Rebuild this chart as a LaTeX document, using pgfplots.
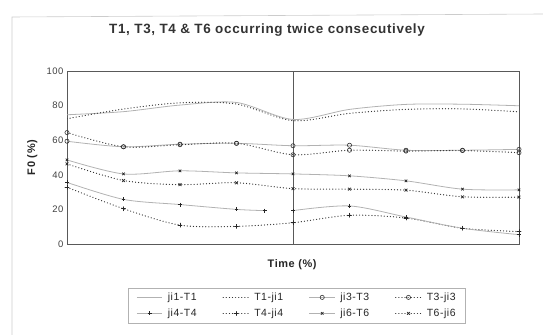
\documentclass[border=0pt]{standalone}
\usepackage{fontspec}
\setmainfont{Liberation Sans}[LetterSpace=5]
\usepackage{pgfplots}
\pgfplotsset{compat=1.18}

\pgfplotsset{
  solidline/.style={gray!60, line width=0.8pt, smooth},
  dotline/.style={black!80, line width=1.2pt, dash pattern=on 0.1pt off 3pt, line cap=round, smooth},
  circ/.style={mark=o, mark size=2.1pt, mark options={solid, fill=white, draw=black!80, line width=0.6pt}},
  plusm/.style={mark=+, mark size=2pt, mark options={solid, black!85, line width=0.7pt}},
  crossm/.style={mark=x, mark size=1.8pt, mark options={solid, black!85, line width=0.7pt}},
}

\begin{document}
\begin{tikzpicture}
\path[use as bounding box] (0,0) rectangle (543bp,335bp);
% chart area border (left and top edges)
\draw[gray!40, line width=0.6pt] (12bp,0) -- (12bp,318bp) -- (543bp,321bp);
\node[font=\bfseries\fontsize{13.5}{16}\selectfont, text=black!80] at (267bp,305bp)
  {T1, T3, T4 \& T6 occurring twice consecutively};
\begin{axis}[
  at={(67bp,91bp)}, anchor=south west,
  scale only axis, width=452bp, height=173bp,
  xmin=0, xmax=8, ymin=0, ymax=100,
  xtick=\empty, ytick={0,20,...,100},
  major tick length=0pt,
  axis line style={gray!70!black, line width=0.7pt},
  tick label style={font=\fontsize{9.5}{10}\selectfont, text=black!75},
  /pgf/number format/assume math mode=true,
  xlabel={Time (\%)}, ylabel={F0 (\%)},
  label style={font=\bfseries\fontsize{11}{13}\selectfont, text=black!85},
  xlabel style={at={(axis description cs:0.498,-0.121)}, anchor=center},
  ylabel style={at={(axis description cs:-0.077,0.5)}, anchor=center},
  legend columns=4,
  legend cell align=left,
  legend style={at={(0.509,-0.355)}, anchor=center, draw=gray!60, line width=0.5pt,
    font=\fontsize{10.5}{12}\selectfont, text=black!85,
    column sep=3bp, inner xsep=8bp, inner ysep=3bp, row sep=3bp,
    /tikz/every even column/.append style={column sep=24bp}},
  legend image code/.code={\draw[mark repeat=2, mark phase=2]
    plot coordinates {(0cm,0cm) (0.45cm,0cm) (0.9cm,0cm)};},
]
% boundary between the two syllables
\addplot[gray!70!black, line width=0.7pt, forget plot] coordinates {(4,0) (4,100)};

\addplot[solidline] coordinates {
  (0,74.7) (1,76.5) (2,80.3) (3,81.8) (4,72) (5,77.8) (6,80.7) (7,80.8) (8,79.9)};
\addlegendentry{ji1-T1}
\addplot[dotline] coordinates {
  (0,72.4) (1,78) (2,81.6) (3,80.9) (4,71.3) (5,75.5) (6,77.8) (7,78.1) (8,76.4)};
\addlegendentry{T1-ji1}

\addplot[solidline, circ] coordinates {
  (0,59.4) (1,56.2) (2,57.7) (3,58.2) (4,56.8) (5,57.1) (6,54.2) (7,54.2) (8,54.7)};
\addlegendentry{ji3-T3}
\addplot[dotline, circ] coordinates {
  (0,64.4) (1,56.2) (2,57.4) (3,58.2) (4,51.6) (5,54.2) (6,53.7) (7,54) (8,52.8)};
\addlegendentry{T3-ji3}

\addplot[solidline, plusm] coordinates {
  (0,35.6) (1,25.8) (2,22.8) (3,20) (3.5,19.3)};
\addlegendentry{ji4-T4}
\addplot[dotline, plusm] coordinates {
  (0,32.8) (1,20.4) (2,10.9) (3,10.2) (4,12.3) (5,16.6) (6,15) (7,9.1) (8,7.2)};
\addlegendentry{T4-ji4}

\addplot[solidline, crossm] coordinates {
  (0,48.6) (1,40.5) (2,42.3) (3,41.1) (4,40.5) (5,39.4) (6,36.5) (7,31.7) (8,31.3)};
\addlegendentry{ji6-T6}
\addplot[dotline, crossm] coordinates {
  (0,46.3) (1,36.7) (2,34.3) (3,35.4) (4,32) (5,31.7) (6,31.1) (7,27.3) (8,27.1)};
\addlegendentry{T6-ji6}

% second part of ji4-T4, after the break
\addplot[solidline, plusm, forget plot] coordinates {
  (4,19.3) (5,22) (6,15.6) (7,9.1) (8,5.4)};
\end{axis}
\end{tikzpicture}
\end{document}
